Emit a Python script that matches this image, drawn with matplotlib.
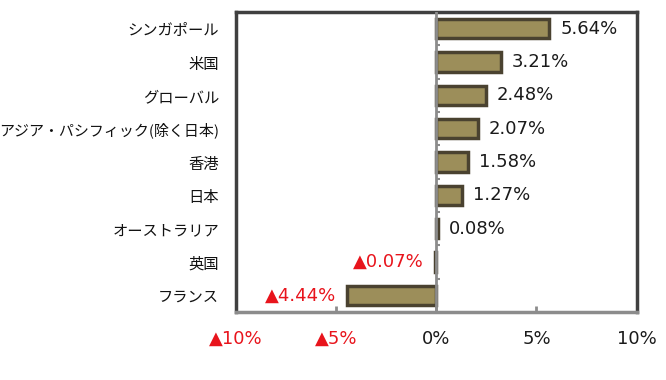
import numpy as np
import matplotlib
matplotlib.use('Agg')
import matplotlib.pyplot as plt

plt.rcParams['font.family'] = ['Noto Sans CJK JP', 'DejaVu Sans']

# data (top to bottom)
countries = ['シンガポール', '米国', 'グローバル', 'アジア・パシフィック(除く日本)',
             '香港', '日本', 'オーストラリア', '英国', 'フランス']
values    = [5.64, 3.21, 2.48, 2.07, 1.58, 1.27, 0.08, -0.07, -4.44]
xticks    = [-10, -5, 0, 5, 10]


def fmt(v, dec=2):
    s = f'{abs(v):.{dec}f}%' if dec else f'{abs(v):.0f}%'
    return ('▲' + s) if v < 0 else s


fig = plt.figure(figsize=(6.66, 3.8), dpi=100)
ax = fig.add_axes([0.354, 0.179, 0.602, 0.789])

y = np.arange(len(countries))
ax.barh(y, values, height=0.58, color='#9C8E5A', edgecolor='#4A4230', linewidth=2.5, zorder=3)

ax.set_xlim(-10, 10)
ax.set_ylim(len(countries) - 0.5, -0.5)

# zero line + little category ticks on it
ax.axvline(0, color='#8C8C8C', lw=2, zorder=4)
ax.hlines(y[:-1] + 0.5, 0, 0.2, color='#8C8C8C', lw=1.5, zorder=4)

# value labels
for yi, v in zip(y, values):
    if v >= 0:
        ax.annotate(fmt(v), (v, yi), xytext=(8, 0), textcoords='offset points',
                    ha='left', va='center', fontsize=13, color='#1a1a1a',
                    family='DejaVu Sans')
    else:
        ax.annotate(fmt(v), (v, yi), xytext=(-8, 0), textcoords='offset points',
                    ha='right', va='center', fontsize=13, color='#E8141C',
                    family='DejaVu Sans')

ax.set_yticks(y)
ax.set_yticklabels(countries, fontsize=11, color='#111111')
for lab in ax.get_yticklabels():
    if len(lab.get_text()) > 10:
        lab.set_fontsize(10.8)
ax.tick_params(axis='y', length=0, pad=12)

ax.set_xticks(xticks)
ax.set_xticklabels([fmt(t, 0) for t in xticks], fontsize=13, family='DejaVu Sans')
for lab, t in zip(ax.get_xticklabels(), xticks):
    lab.set_color('#E8141C' if t < 0 else '#1a1a1a')
ax.tick_params(axis='x', direction='in', length=4, width=2, color='#8C8C8C', pad=13)

for side in ['left', 'top', 'right']:
    ax.spines[side].set_color('#404040')
    ax.spines[side].set_linewidth(2.5)
ax.spines['bottom'].set_color('#8C8C8C')
ax.spines['bottom'].set_linewidth(2.5)

fig.savefig('out.png', dpi=100)
